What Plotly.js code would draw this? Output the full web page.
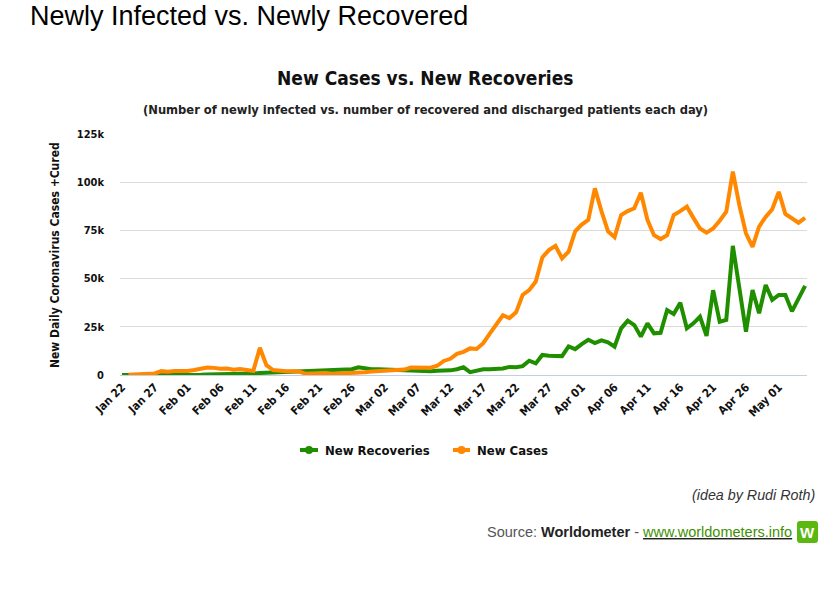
<!DOCTYPE html>
<html>
<head>
<meta charset="utf-8">
<script src="https://cdn.plot.ly/plotly-3.0.1.min.js"></script>
<style>html,body{margin:0;padding:0;background:#fff;}#chart{width:838px;height:594px;}</style>
</head>
<body>
<div id="chart"></div>
<script>
// Series start date (one value per day)
const startDate = '2020-01-22';
const newRecoveries = [0.03,0,0,0.01,0,0.02,0.04,0.02,0.05,0.04,
  0.1,0.15,0.17,0.26,0.27,0.35,0.6,0.65,0.7,0.75,
  0.75,1.1,1.2,1.4,1.4,1.7,1.8,1.8,2.0,2.2,
  2.5,2.6,2.5,2.7,2.8,3.0,4.0,3.3,3.0,3.0,
  3.0,2.8,2.7,2.5,2.3,2.1,2.1,1.9,2.2,2.2,
  2.4,3.0,4.0,1.5,2.4,3.0,3.0,3.1,3.4,4.2,
  4.0,4.6,7.4,6.0,10.4,10.0,9.8,9.8,14.8,13.4,
  16.0,18.3,16.6,18.0,17.0,14.7,24.2,28.2,25.9,19.9,
  26.8,21.6,21.9,33.7,31.6,37.5,24.2,26.8,30.2,20.3,
  44.0,27.6,28.5,67.0,45.0,22.5,44.0,32.0,46.7,39.0,
  41.5,41.5,33.0,40.0,46.2];
const newCases = [null,0.1,0.3,0.5,0.7,0.8,2.0,1.7,2.1,2.0,
  2.1,2.6,3.2,3.9,3.7,3.2,3.4,2.7,3.1,2.6,
  2.1,14.1,5.1,2.6,2.1,2.0,1.9,1.8,0.6,0.9,
  1.0,1.0,0.6,0.7,0.9,1.0,1.2,1.4,1.8,2.0,
  1.9,2.4,2.3,2.8,3.9,3.9,4.0,3.8,4.8,7.3,
  8.4,11.0,12.0,13.8,13.5,16.5,21.5,26.5,31.0,29.5,
  32.5,41.5,44.0,48.5,61.0,64.8,67.0,60.5,64.0,74.5,
  78.0,80.5,96.8,85.0,74.5,71.5,83.0,85.0,86.5,94.5,
  80.5,72.5,70.5,72.5,83.0,85.0,87.3,81.5,76.0,73.8,
  76.0,80.0,84.7,105.5,88.0,73.5,66.5,77.0,82.0,86.0,
  95.0,83.5,81.5,79.0,81.5];
const seriesNames = ['New Recoveries', 'New Cases'];
const xTickDates = ['2020-01-22','2020-01-27','2020-02-01','2020-02-06','2020-02-11','2020-02-16','2020-02-21','2020-02-26','2020-03-02','2020-03-07','2020-03-12','2020-03-17','2020-03-22','2020-03-27','2020-04-01','2020-04-06','2020-04-11','2020-04-16','2020-04-21','2020-04-26','2020-05-01'];
const xTickLabels = ['Jan 22','Jan 27','Feb 01','Feb 06','Feb 11','Feb 16','Feb 21','Feb 26','Mar 02','Mar 07','Mar 12','Mar 17','Mar 22','Mar 27','Apr 01','Apr 06','Apr 11','Apr 16','Apr 21','Apr 26','May 01'];
const yTickVals = [0,25000,50000,75000,100000,125000];
const yTickLabels = ['0','25k','50k','75k','100k','125k'];

// build the date categories
const dates = [];
const d0 = new Date(startDate + 'T00:00:00Z');
for (let i = 0; i < newCases.length; i++) {
  const d = new Date(d0.getTime() + i * 86400000);
  dates.push(d.toISOString().slice(0,10));
}
const toUnits = a => a.map(v => v === null ? null : v * 1000);

const green = '#1f8f00', orange = '#ff8800';
const chartFont = 'DejaVu Sans Condensed, DejaVu Sans, sans-serif';
const traces = [
  {x: dates, y: toUnits(newRecoveries), name: seriesNames[0], type: 'scatter', mode: 'lines',
   line: {color: green, width: 4}, showlegend: false},
  {x: dates, y: toUnits(newCases), name: seriesNames[1], type: 'scatter', mode: 'lines',
   line: {color: orange, width: 4}, showlegend: false}
];

const px = p => (p - 120) / 687;
const py = p => (375 - p) / 241;

// legend drawn as shapes + text (line with round marker, bold label)
const legendItems = [
  {color: green, x0: 300, x1: 318, tx: 323, label: seriesNames[0]},
  {color: orange, x0: 453, x1: 470, tx: 475, label: seriesNames[1]}
];
const legendY = 450;
const legendShapes = [];
const legendAnn = [];
legendItems.forEach(it => {
  legendShapes.push({type: 'line', xref: 'paper', yref: 'paper', x0: px(it.x0), x1: px(it.x1),
    y0: py(legendY), y1: py(legendY), line: {color: it.color, width: 4}});
  const cx = (it.x0 + it.x1) / 2;
  legendShapes.push({type: 'circle', xref: 'paper', yref: 'paper', x0: px(cx - 4), x1: px(cx + 4),
    y0: py(legendY + 4), y1: py(legendY - 4), fillcolor: it.color, line: {width: 0}});
  legendAnn.push({text: it.label, xref: 'paper', yref: 'paper', x: px(it.tx), y: py(legendY),
    xanchor: 'left', yanchor: 'middle', showarrow: false,
    font: {family: chartFont, size: 13, color: '#111', weight: 'bold'}});
});

const layout = {
  width: 838, height: 594,
  margin: {l: 120, r: 31, t: 134, b: 219},
  paper_bgcolor: '#fff', plot_bgcolor: '#fff',
  title: {text: 'Newly Infected vs. Newly Recovered', xref: 'container', yref: 'container',
    x: 30/838, xanchor: 'left', y: 1 - 16/594, yanchor: 'middle',
    font: {family: 'Liberation Sans, Arial, sans-serif', size: 27, color: '#000'}},
  showlegend: false,
  xaxis: {type: 'date', range: ['2020-01-21 17:00', '2020-05-05 07:00'],
    tickvals: xTickDates, ticktext: xTickLabels, tickangle: -45,
    showgrid: false, zeroline: false, showline: true, linecolor: '#c3cfe2', linewidth: 1,
    ticks: '', tickfont: {family: chartFont, size: 11.5, color: '#111', weight: 'bold'}},
  yaxis: {range: [0, 125000], tickvals: yTickVals, ticktext: yTickLabels,
    showgrid: true, gridcolor: '#dadada', gridwidth: 1, zeroline: false, showline: false,
    ticks: '', ticklabelstandoff: 15,
    tickfont: {family: chartFont, size: 11, color: '#111', weight: 'bold'}},
  annotations: [
    {text: 'New Cases vs. New Recoveries', xref: 'paper', yref: 'paper', x: px(425), y: py(78),
     xanchor: 'center', yanchor: 'middle', showarrow: false,
     font: {family: chartFont, size: 19, color: '#111', weight: 'bold'}},
    {text: '(Number of newly infected vs. number of recovered and discharged patients each day)',
     xref: 'paper', yref: 'paper', x: px(425), y: py(110), xanchor: 'center', yanchor: 'middle', showarrow: false,
     font: {family: chartFont, size: 12.8, color: '#222', weight: 'bold'}},
    {text: 'New Daily Coronavirus Cases +Cured', xref: 'paper', yref: 'paper', x: px(55), y: py(255),
     xanchor: 'center', yanchor: 'middle', textangle: -90, showarrow: false,
     font: {family: chartFont, size: 12, color: '#111', weight: 'bold'}},
    {text: '<i>(idea by Rudi Roth)</i>', xref: 'paper', yref: 'paper', x: px(817), y: py(495),
     xanchor: 'right', yanchor: 'middle', showarrow: false,
     font: {family: 'Liberation Sans, Arial, sans-serif', size: 14.3, color: '#333'}},
    {text: '<span style="color:#555">Source: </span><b>Worldometer</b><span style="color:#555"> - </span><u><span style="color:#3d8f00">www.worldometers.info</span></u>',
     xref: 'paper', yref: 'paper', x: px(794), y: py(532),
     xanchor: 'right', yanchor: 'middle', showarrow: false,
     font: {family: 'Liberation Sans, Arial, sans-serif', size: 14.5, color: '#222'}},
    {text: '<b>W</b>', xref: 'paper', yref: 'paper', x: px(807.5), y: py(532),
     xanchor: 'center', yanchor: 'middle', showarrow: false,
     font: {family: 'Liberation Sans, Arial, sans-serif', size: 15, color: '#fff'}}
  ].concat(legendAnn),
  shapes: [
    {type: 'path', xref: 'paper', yref: 'paper',
     path: 'M ' + px(800) + ',' + py(521) + ' L ' + px(815) + ',' + py(521) +
           ' Q ' + px(818) + ',' + py(521) + ' ' + px(818) + ',' + py(524) +
           ' L ' + px(818) + ',' + py(540) + ' Q ' + px(818) + ',' + py(543) + ' ' + px(815) + ',' + py(543) +
           ' L ' + px(800) + ',' + py(543) + ' Q ' + px(797) + ',' + py(543) + ' ' + px(797) + ',' + py(540) +
           ' L ' + px(797) + ',' + py(524) + ' Q ' + px(797) + ',' + py(521) + ' ' + px(800) + ',' + py(521) + ' Z',
     fillcolor: '#5cb811', line: {width: 0}}
  ].concat(legendShapes)
};

Plotly.newPlot('chart', traces, layout, {displayModeBar: false, staticPlot: true});
</script>
</body>
</html>
